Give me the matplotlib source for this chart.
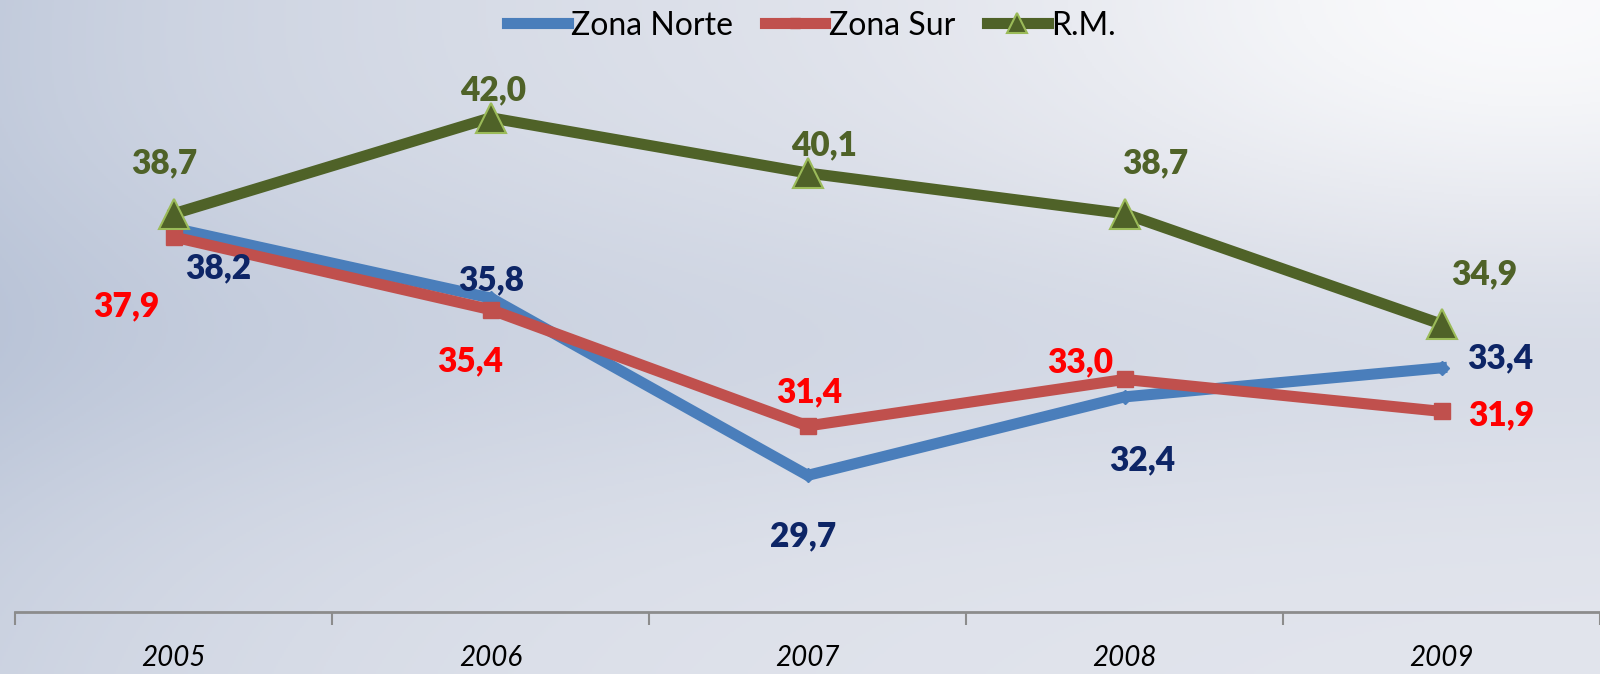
import numpy as np
import matplotlib
matplotlib.use("Agg")
import matplotlib.pyplot as plt

plt.rcParams["font.family"] = ["Lato", "DejaVu Sans"]

# Datos
years = ["2005", "2006", "2007", "2008", "2009"]
zona_norte = [38.2, 35.8, 29.7, 32.4, 33.4]
zona_sur = [37.9, 35.4, 31.4, 33.0, 31.9]
rm = [38.7, 42.0, 40.1, 38.7, 34.9]

# Desplazamiento de etiquetas (puntos)
off_norte = [(32, -29), (0, 13), (-3, -44), (13, -46), (42, 7)]
off_sur = [(-34, -50), (-15, -37), (1, 24), (-32, 12), (43, -3)]
off_rm = [(-7, 36), (2, 20), (12, 20), (22, 36), (31, 36)]

fig = plt.figure(figsize=(16, 6.74), dpi=100)

# Fondo tipo cielo nublado
bg = fig.add_axes([0, 0, 1, 1], zorder=-10)
h, w = 337, 800
yy, xx = np.mgrid[0:1:h * 1j, 0:1:w * 1j]
light = np.array([0.89, 0.90, 0.93])
dark = np.array([0.68, 0.73, 0.82])
shade = 0.6 * np.exp(-xx / 0.3) * (1 - 0.3 * yy) + 0.25 * np.exp(-((yy - 0.5) ** 2) / 0.06)
shade -= 0.6 * np.exp(-(((xx - 0.95) ** 2) / 0.08 + (yy ** 2) / 0.12))
shade = np.clip(shade, -0.6, 1)
img = light[None, None, :] * (1 - shade[..., None]) + dark[None, None, :] * shade[..., None]
img = np.where(shade[..., None] < 0, light + (1 - light) * (-shade[..., None]) / 0.6 * 0.85, img)
bg.imshow(np.clip(img, 0, 1), aspect="auto", extent=[0, 1, 0, 1])
bg.axis("off")

ax = fig.add_axes([0.0096, 0.092, 0.9904, 0.8626])
ax.set_facecolor("none")
x = np.arange(len(years))

ln_n, = ax.plot(x, zona_norte, color="#4A7EBB", lw=8, marker="D", ms=7,
                mec="#4A7EBB", mfc="#4A7EBB", label="Zona Norte")
ln_s, = ax.plot(x, zona_sur, color="#C0504D", lw=8, marker="s", ms=11,
                mec="#C0504D", mfc="#C0504D", label="Zona Sur")
ln_r, = ax.plot(x, rm, color="#4F6228", lw=8, marker="^", ms=21,
                mec="#9BBB59", mew=1.5, mfc="#4F6228", label="R.M.")

for vals, offs, col in [(zona_norte, off_norte, "#0D2566"),
                        (zona_sur, off_sur, "#FF0000"),
                        (rm, off_rm, "#4F6228")]:
    for xi, v, (dx, dy) in zip(x, vals, offs):
        ax.annotate(f"{v:.1f}".replace(".", ","), (xi, v), xytext=(dx, dy),
                    textcoords="offset points", ha="center", va="center",
                    fontsize=24, fontweight="heavy", color=col)

ax.set_xlim(-0.5, 4.5)
ax.set_ylim(25, 45)
ax.set_yticks([])
for s in ["left", "right", "top"]:
    ax.spines[s].set_visible(False)
ax.spines["bottom"].set_color("#8C8C8C")
ax.spines["bottom"].set_linewidth(2)
ax.set_xticks(x)
ax.set_xticklabels(years, fontsize=20, fontstyle="italic")
ax.tick_params(axis="x", which="major", length=0, pad=24)
ax.set_xticks(np.arange(-0.5, 5, 1), minor=True)
ax.tick_params(axis="x", which="minor", length=9, width=1.5, color="#8C8C8C", direction="out")

fig.legend(handles=[ln_n, ln_s, ln_r], loc="center", bbox_to_anchor=(0.507, 0.962),
           ncol=3, frameon=False, fontsize=23, handlelength=1.9, handletextpad=0.1,
           columnspacing=1.0, markerscale=0.7)

fig.savefig("out.png", dpi=100)
